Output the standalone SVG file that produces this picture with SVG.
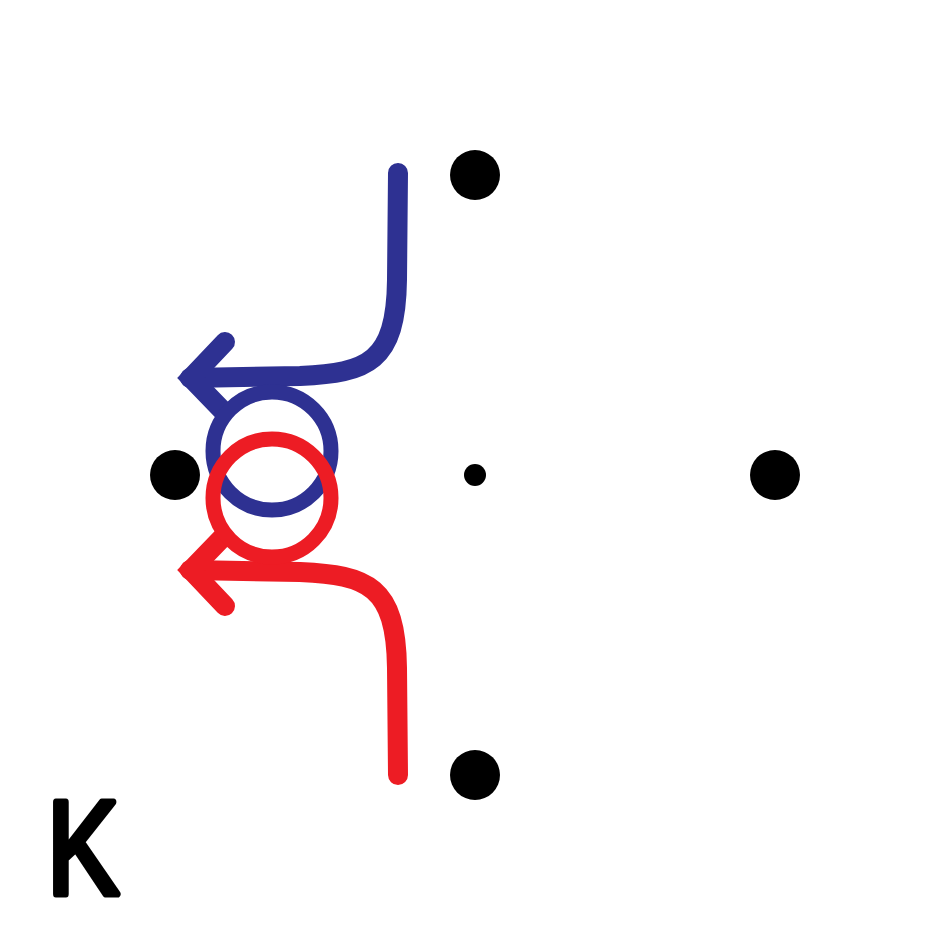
<svg xmlns="http://www.w3.org/2000/svg" width="950" height="950" viewBox="0 0 950 950">
<style>
.ln{fill:none;stroke-width:20;stroke-linecap:round}
.hd{fill:none;stroke-width:20;stroke-linecap:round;stroke-linejoin:miter;stroke-miterlimit:10}
.ring{fill:none;stroke-width:15}
.blue{stroke:#2e3192}
.red{stroke:#ed1c24}
.dot{fill:#000}
</style>
<rect width="950" height="950" fill="#fff"/>
<g id="nodes">
<g id="n-top"><circle class="dot" cx="475" cy="175" r="25"/></g>
<g id="n-left"><circle class="dot" cx="175" cy="475" r="25"/></g>
<g id="n-right"><circle class="dot" cx="775" cy="475" r="25"/></g>
<g id="n-bottom"><circle class="dot" cx="475" cy="775" r="25"/></g>
<g id="n-center"><circle class="dot" cx="475" cy="475" r="11"/></g>
</g>
<g id="connectors">
<g id="blue-arrow">
<path class="ln blue" d="M398,173 L397,280 C396,362 368,373 300,376 L190,378"/>
<path class="hd blue" d="M225,342 L191,378 L222,410"/>
</g>
<g id="red-arrow">
<path class="ln red" d="M398,775 L397,668 C396,586 368,575 300,572 L190,570"/>
<path class="hd red" d="M222,538 L191,570 L225,606"/>
</g>
<circle class="ring blue" cx="272" cy="451" r="59"/>
<circle class="ring red" cx="272" cy="498" r="59"/>
</g>
<g id="label">
<text x="47" y="894" font-family="Liberation Sans, Arial, sans-serif" font-size="134" textLength="72" lengthAdjust="spacingAndGlyphs" fill="#000" stroke="#000" stroke-width="7" stroke-linejoin="round" stroke-linecap="round">K</text>
</g>
</svg>
